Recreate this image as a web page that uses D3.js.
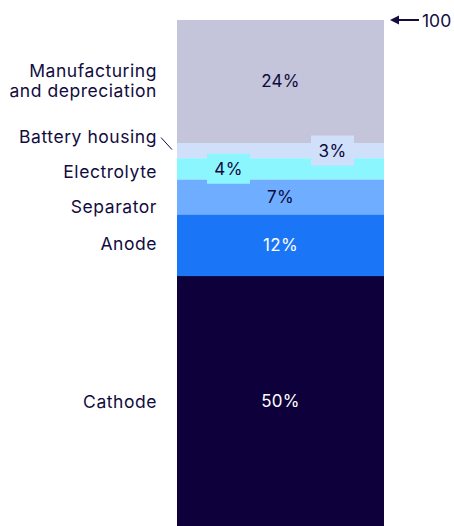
<!DOCTYPE html>
<html>
<head>
<meta charset="utf-8">
<script src="https://cdn.jsdelivr.net/npm/d3@7"></script>
<style>
html,body{margin:0;padding:0;background:#fff;}
svg{display:block;font-family:Inter,"Noto Sans",sans-serif;}
</style>
</head>
<body>
<svg id="chart" width="454" height="526"></svg>
<script>
// Data (bottom to top)
const categories = ["Cathode", "Anode", "Separator", "Electrolyte", "Battery housing", "Manufacturing and depreciation"];
const values = [49.4, 12.2, 6.9, 4.2, 3.0, 24.3];
const valueLabels = ["50%", "12%", "7%", "4%", "3%", "24%"];
const colors = ["#0e003b", "#1a76f6", "#6eadff", "#8cf6ff", "#d1e0fa", "#c4c4da"];
const labelColors = ["#ffffff", "#ffffff", "#0e0a3c", "#0e0a3c", "#0e0a3c", "#0e0a3c"];
const totalLabel = "100";

const svg = d3.select("#chart");
const textColor = "#120c40";

const y = d3.scaleLinear().domain([0, 100]).range([526, 20]);
const x = d3.scaleBand().domain(["total"]).range([177, 384]).padding(0);

let cum = 0;
const stacked = values.map((v, i) => {
  const d = {cat: categories[i], v, y0: cum, y1: cum + v, color: colors[i], label: valueLabels[i], lc: labelColors[i]};
  cum += v;
  return d;
});

svg.append("g").selectAll("rect").data(stacked).join("rect")
  .attr("x", x("total"))
  .attr("width", x.bandwidth())
  .attr("y", d => y(d.y1))
  .attr("height", d => y(d.y0) - y(d.y1))
  .attr("fill", d => d.color);

// value labels
const cx = x("total") + x.bandwidth() / 2;
const offsets = {"Electrolyte": -52, "Battery housing": 52};
const vl = svg.append("g");
stacked.forEach(d => {
  const mid = (y(d.y0) + y(d.y1)) / 2;
  const px = cx + (offsets[d.cat] || 0);
  if (offsets[d.cat] !== undefined) {
    vl.append("rect").attr("x", px - 21.5).attr("y", mid - 15)
      .attr("width", 43).attr("height", 30).attr("fill", d.color);
  }
  vl.append("text").attr("x", px).attr("y", mid)
    .attr("text-anchor", "middle").attr("dominant-baseline", "central")
    .attr("font-size", 17).attr("letter-spacing", 0.3).attr("fill", d.lc).text(d.label);
});

// category labels on the left
const labelShift = {"Cathode": 0, "Anode": -2, "Separator": 10, "Electrolyte": 3, "Battery housing": -14.5, "Manufacturing and depreciation": -0.8};
const lab = svg.append("g").attr("fill", textColor).attr("font-size", 17.5)
  .attr("letter-spacing", 0.55).attr("text-anchor", "end");
stacked.forEach(d => {
  const mid = (y(d.y0) + y(d.y1)) / 2 + labelShift[d.cat];
  if (d.cat === "Manufacturing and depreciation") {
    lab.append("text").attr("x", 157).attr("y", mid - 10).attr("dominant-baseline", "central").text("Manufacturing");
    lab.append("text").attr("x", 157).attr("y", mid + 10).attr("dominant-baseline", "central").text("and depreciation");
  } else {
    lab.append("text").attr("x", 157).attr("y", mid).attr("dominant-baseline", "central").text(d.cat);
    if (d.cat === "Battery housing") {
      svg.append("line").attr("x1", 161).attr("y1", mid + 1.5).attr("x2", 172).attr("y2", mid + 13.5)
        .attr("stroke", textColor).attr("stroke-width", 1);
    }
  }
});

// 100 marker
const ty = y(100);
svg.append("line").attr("x1", 396).attr("y1", ty).attr("x2", 419).attr("y2", ty)
  .attr("stroke", textColor).attr("stroke-width", 2);
svg.append("path").attr("d", `M390,${ty} L399,${ty - 4.5} L399,${ty + 4.5} Z`).attr("fill", textColor);
svg.append("text").attr("x", 422).attr("y", ty).attr("dominant-baseline", "central")
  .attr("font-size", 17.5).attr("fill", textColor).text(totalLabel);
</script>
</body>
</html>
